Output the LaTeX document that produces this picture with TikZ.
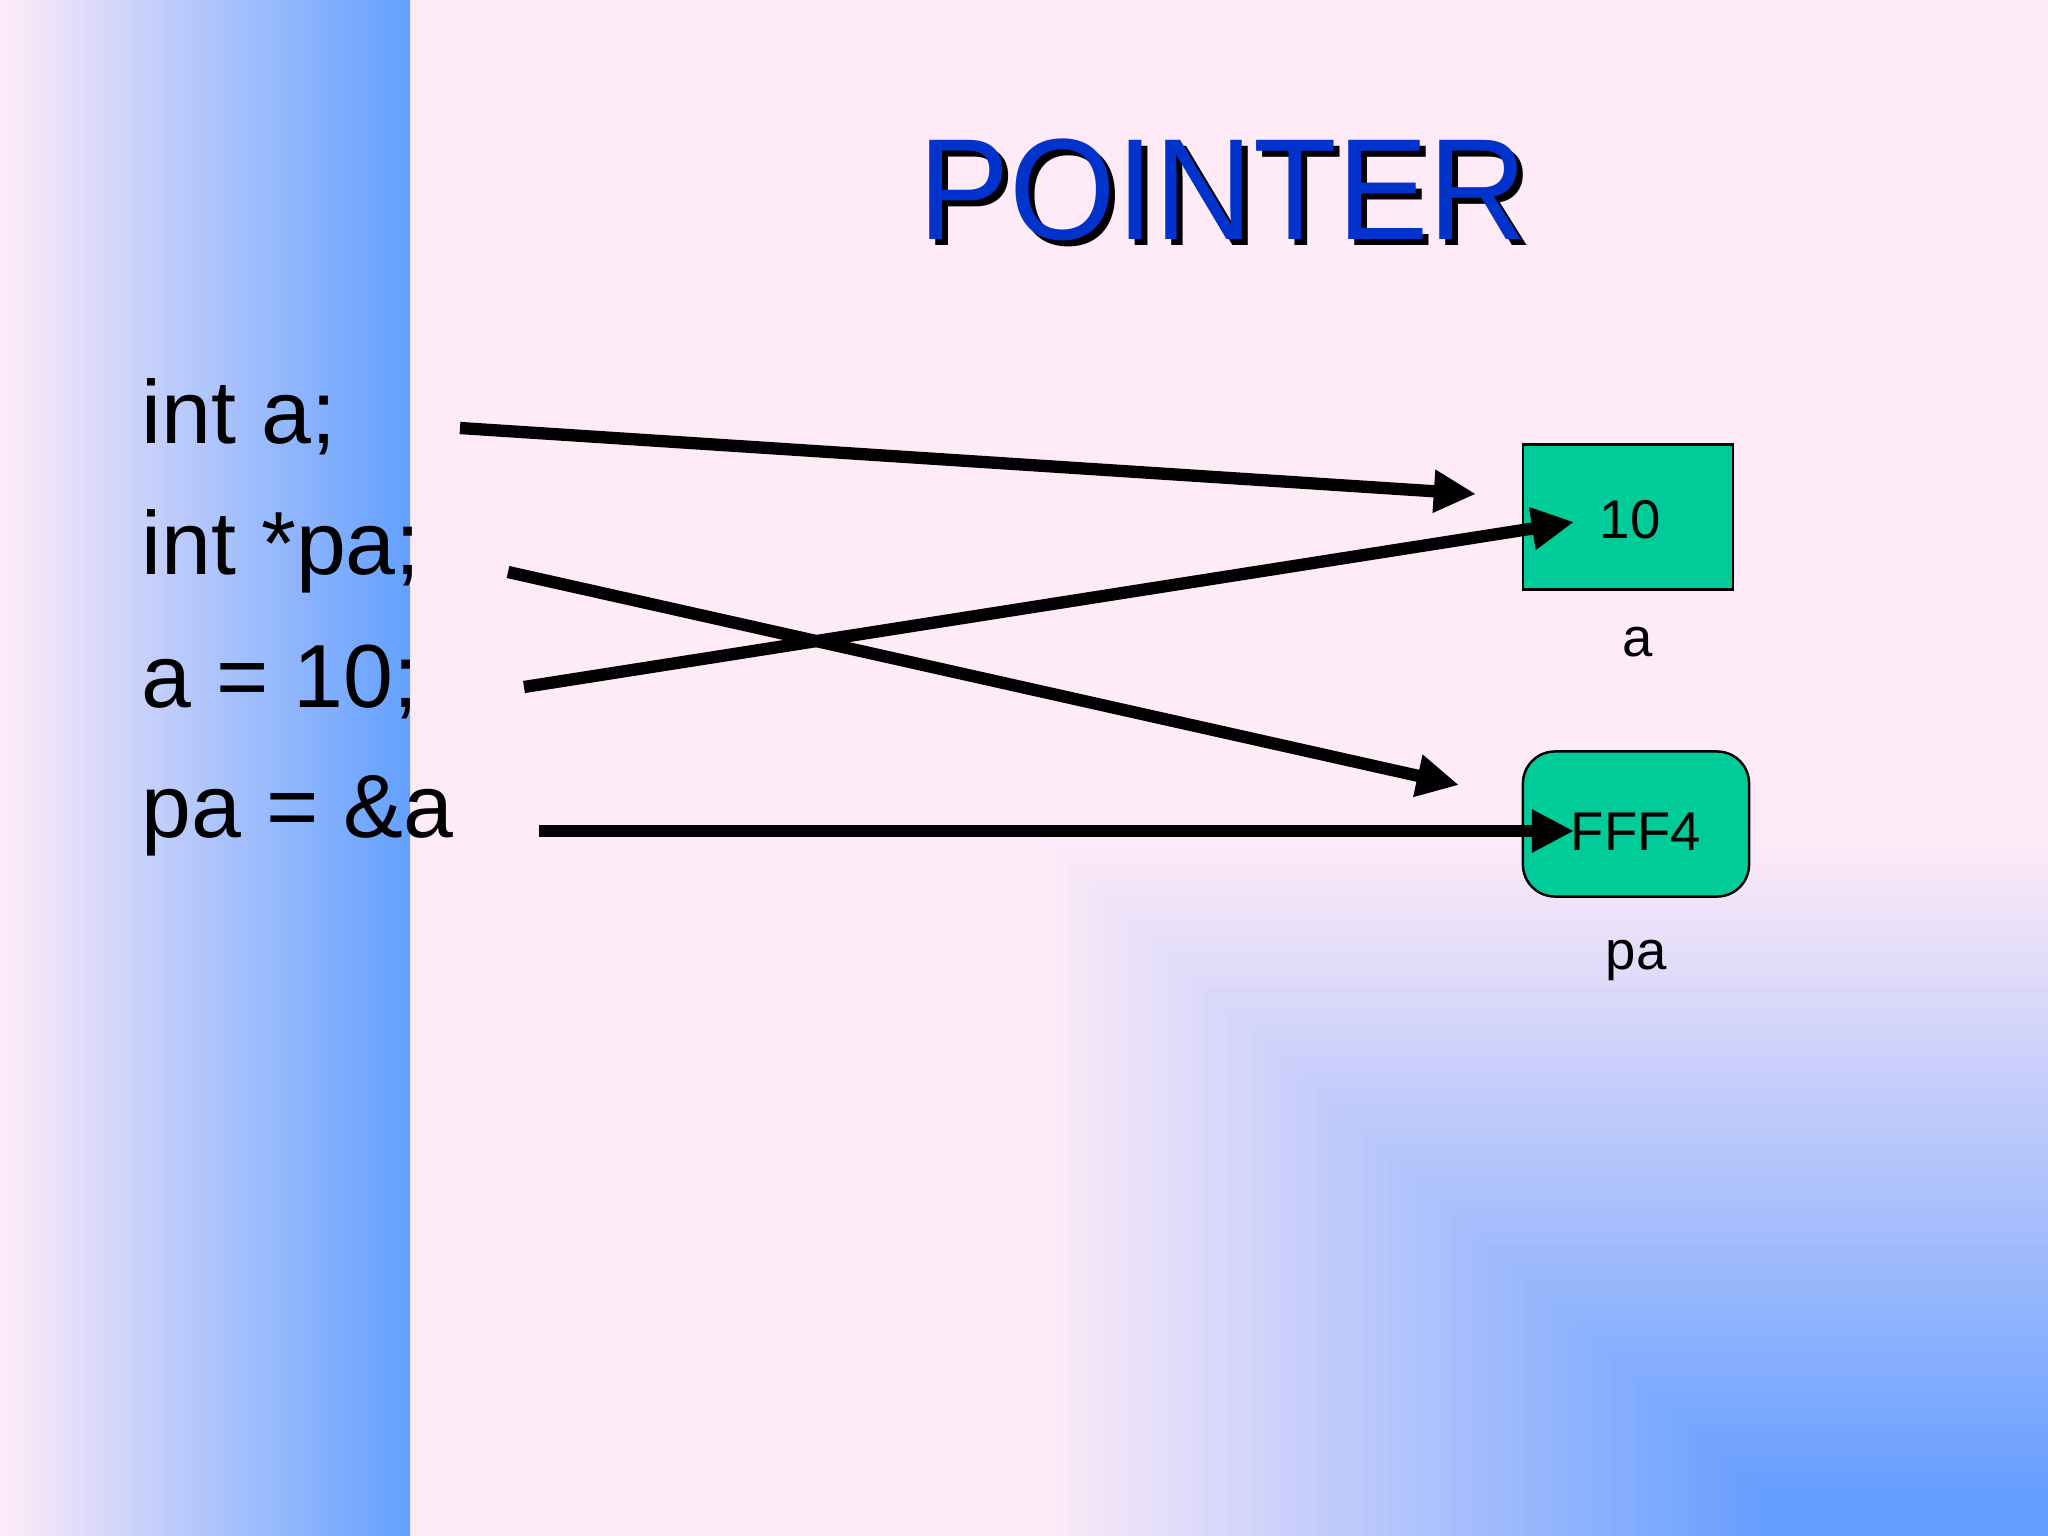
\documentclass[tikz,border=0pt]{standalone}
\usepackage{fontspec}
\setmainfont{Liberation Sans}
\usetikzlibrary{arrows.meta}
\definecolor{bgpink}{RGB}{255,235,248}
\definecolor{bandblue}{RGB}{98,160,255}
\definecolor{cornerblue}{RGB}{102,158,255}
\definecolor{titleblue}{RGB}{0,51,204}
\definecolor{boxgreen}{RGB}{0,204,153}
\begin{document}
\begin{tikzpicture}[x=0.01cm,y=-0.01cm,
  codetext/.style={anchor=base west, inner sep=0pt, font=\fontsize{25.5}{30}\selectfont},
  titletext/.style={anchor=base, inner sep=0pt, xscale=0.95, font=\fontsize{41}{48}\selectfont},
  ptr/.style={line width=3.5pt, -{Triangle[length=12pt,width=11.5pt]}},
  cell/.style={draw=black, line width=0.7pt, fill=boxgreen, inner sep=0pt},
  celltext/.style={font=\fontsize{15.5}{18}\selectfont, inner sep=0pt}]
\useasboundingbox (0,0) rectangle (2048,1536);
% background
\fill[bgpink] (0,0) rectangle (2048,1536);
\foreach \i in {0,...,59}{
  \pgfmathtruncatemacro\p{round(100*\i/59)}
  \pgfmathsetmacro\xx{1030+(\i/59)*730}
  \pgfmathsetmacro\yy{830+(\i/59)*660}
  \fill[cornerblue!\p!bgpink] (\xx,\yy) rectangle (2048,1536);
}
\shade[left color=bgpink, right color=bandblue] (0,0) rectangle (410,1536);
% title
\node[titletext, text=black] (titleshadow) at (1229,245) {POINTER};
\node[titletext, text=titleblue] (title) at (1223,239) {POINTER};
% code lines
\node[codetext] (l1) at (141,443) {int a;};
\node[codetext] (l2) at (141,574) {int *pa;};
\node[codetext] (l3) at (141,707) {a = 10;};
\node[codetext] (l4) at (141,837) {pa = \&a};
% memory cells
\node[cell, minimum width=2.10cm, minimum height=1.45cm] (boxa) at (1628,517) {};
\node[celltext] (vala) at (1630,520) {10};
\node[celltext] (namea) at (1638,642) {a};
\node[cell, rounded corners=0.32cm, minimum width=2.26cm, minimum height=1.45cm] (boxpa) at (1636,824) {};
\node[celltext] (valpa) at (1636,832) {FFF4};
\node[celltext] (namepa) at (1636,960) {pa};
% arrow ends
\coordinate (a1s) at (460,428);
\coordinate (a1e) at (1476,494);
\coordinate (a2s) at (508,572);
\coordinate (a2e) at (1459,785);
\coordinate (a3s) at (524,687);
\coordinate (a3e) at (1574,522);
\coordinate (a4s) at (539,831);
\coordinate (a4e) at (1574,831);
\draw[ptr] (a1s) -- (a1e);
\draw[ptr] (a2s) -- (a2e);
\draw[ptr] (a3s) -- (a3e);
\draw[ptr] (a4s) -- (a4e);
\end{tikzpicture}
\end{document}
